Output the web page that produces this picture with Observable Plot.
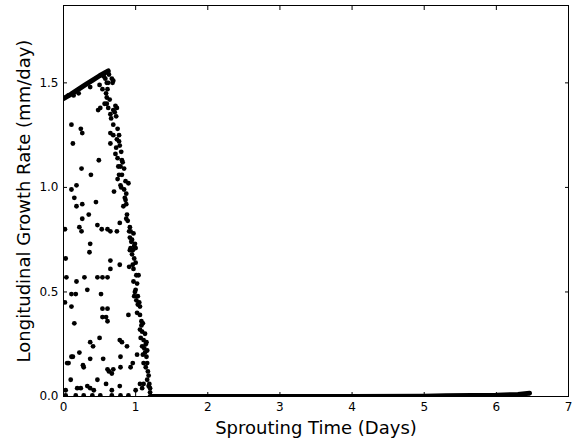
<!DOCTYPE html>
<html>
<head>
<meta charset="utf-8">
<script src="https://cdn.jsdelivr.net/npm/d3@7"></script>
<script src="https://cdn.jsdelivr.net/npm/@observablehq/plot@0.6"></script>
<style>
  html, body { margin: 0; padding: 0; background: #fff; }
  svg [aria-label="x-axis label"] text, svg [aria-label="y-axis label"] text { font-size: 18px; fill: #000; }
</style>
</head>
<body>
<div id="chart"></div>
<script>
// Scattered observations (days, mm/day)
const scatterX = [
  0.11,0.13,0.24,0.26,0.11,0.18,0.15,0.18,0.26,0.25,0.38,0.49,0.45,0.35,0.26,0.22,0.25,0.47,0.53,0.61,
  0.65,0.74,0.78,0.37,0.36,0.02,0.03,0.04,0.02,0.11,0.18,0.17,0.29,0.33,0.11,0.15,0.47,0.54,0.61,0.65,
  0.65,0.54,0.61,0.54,0.59,0.61,0.52,0.78,0.50,0.37,0.41,0.78,0.81,0.88,0.90,0.05,0.07,0.11,0.13,0.22,
  0.27,0.28,0.37,0.55,0.61,0.63,0.69,0.67,0.79,0.79,0.93,0.96,0.10,0.19,0.24,0.33,0.37,0.42,0.47,0.59,
  0.67,0.78,0.03,0.03,0.17,0.28,0.40,0.51,0.67,0.79,0.90,
  0.07,0.14,0.21,0.37,0.50,0.60,0.48,
  0.56,0.63,0.67,0.69,0.54,0.61,0.51,0.60,0.62,0.65,0.69,0.72,0.74,0.66,0.69,0.75,0.65,0.69,0.74,0.77,
  0.78,0.65,0.72,0.75,0.81,0.79,0.84,0.77,0.75,0.81,0.86,0.90,0.79,0.84,0.70,0.87,0.86,0.83,0.87,0.88,
  0.87,0.91,0.93,0.97,0.92,0.95,0.98,0.93,1.00,0.95,0.98,0.91,0.97,1.00,1.01,0.97,1.02,1.00,1.03,0.98,
  1.01,1.03,1.06,1.02,1.06,1.08,1.10,1.06,1.09,1.07,1.11,1.14,1.09,1.12,1.16,1.10,1.15,1.02,1.11,1.16,
  1.14,1.17,1.18,1.16,1.11,1.18,1.20,1.09,1.06,1.20,1.00,
  0.94,0.96,0.99,1.04,1.05,1.08,1.13,1.13,1.15,1.19,0.92,0.96,0.99,0.73,0.76,0.80,0.82,0.85,0.89,0.92,
  0.58,0.60,0.62,0.57,0.59,0.64,0.68,0.71,0.73,0.77,0.80
];
const scatterY = [
  1.30,1.21,1.28,1.26,0.99,1.01,0.95,0.91,0.92,1.09,1.06,1.13,0.93,0.87,0.85,0.81,0.79,0.82,0.80,0.80,
  0.79,0.79,0.83,0.73,0.69,0.80,0.66,0.57,0.45,0.49,0.55,0.49,0.57,0.51,0.43,0.35,0.57,0.57,0.57,0.61,
  0.65,0.42,0.42,0.38,0.38,0.36,0.49,0.63,0.28,0.26,0.24,0.27,0.26,0.24,0.39,0.16,0.16,0.19,0.19,0.21,
  0.15,0.14,0.18,0.18,0.13,0.12,0.13,0.11,0.19,0.14,0.14,0.16,0.08,0.04,0.04,0.05,0.04,0.03,0.08,0.06,
  0.03,0.05,0.03,0.005,0.005,0.005,0.005,0.005,0.005,0.005,0.005,
  1.44,1.44,1.45,1.48,1.49,1.50,1.37,
  1.53,1.54,1.52,1.51,1.47,1.47,1.38,1.40,1.38,1.35,1.37,1.39,1.38,1.33,1.30,1.28,1.26,1.25,1.23,1.22,
  1.20,1.21,1.16,1.14,1.13,1.10,1.09,1.06,1.04,1.06,1.03,1.02,1.01,0.99,0.98,0.97,0.94,0.91,0.92,0.87,
  0.85,0.79,0.79,0.78,0.76,0.75,0.72,0.71,0.71,0.68,0.66,0.62,0.61,0.64,0.58,0.55,0.54,0.51,0.48,0.48,
  0.46,0.44,0.43,0.40,0.39,0.36,0.35,0.32,0.31,0.28,0.27,0.25,0.24,0.23,0.22,0.20,0.19,0.20,0.16,0.16,
  0.14,0.12,0.10,0.08,0.06,0.05,0.04,0.04,0.06,0.02,0.03,
  0.74,0.70,0.73,0.58,0.45,0.34,0.30,0.21,0.26,0.06,0.81,0.63,0.50,1.19,1.10,1.00,1.12,0.95,0.84,0.70,
  1.52,1.43,1.50,1.40,1.45,1.42,1.50,1.36,1.34,1.25,1.17
];

// Dense rising run of points at the start (drawn as a thick run)
const riseX = [0.00, 0.10, 0.20, 0.30, 0.40, 0.50, 0.62];
const riseY = [1.425, 1.445, 1.468, 1.490, 1.512, 1.534, 1.557];

// Dense run of near-zero points after day 1.2
const baseX = [1.20, 2.00, 3.00, 4.00, 5.00, 5.30, 6.00, 6.30, 6.46];
const baseY = [0.000, 0.000, 0.000, 0.000, 0.001, 0.003, 0.006, 0.010, 0.016];

const xTicks = [0, 1, 2, 3, 4, 5, 6, 7];
const yTicks = [0, 0.5, 1.0, 1.5];

const pts = scatterX.map((x, i) => ({x, y: scatterY[i]}));
const rise = riseX.map((x, i) => ({x, y: riseY[i]}));
const base = baseX.map((x, i) => ({x, y: baseY[i]}));

const chart = Plot.plot({
  width: 576,
  height: 440,
  marginLeft: 63,
  marginRight: 8,
  marginTop: 5,
  marginBottom: 44,
  style: {fontFamily: "DejaVu Sans, sans-serif", fontSize: "12px", color: "#000", background: "#fff"},
  x: {domain: [0, 7]},
  y: {domain: [0, 1.87]},
  marks: [
    Plot.line(rise, {x: "x", y: "y", stroke: "#000", strokeWidth: 5, strokeLinecap: "round", clip: true}),
    Plot.line(base, {x: "x", y: "y", stroke: "#000", strokeWidth: 5, strokeLinecap: "round", clip: true}),
    Plot.dot(pts, {x: "x", y: "y", r: 2.4, fill: "#000", stroke: null, clip: true}),
    Plot.frame({stroke: "#000", strokeWidth: 1}),
    Plot.axisX(xTicks, {anchor: "bottom", tickSize: 0, tickPadding: 6, tickFormat: d3.format("d"),
      label: "Sprouting Time (Days)", labelAnchor: "center", labelArrow: "none", labelOffset: 37}),
    Plot.axisX(xTicks, {anchor: "bottom", tickSize: -4, tickFormat: () => "", label: null}),
    Plot.axisX(xTicks, {anchor: "top", tickSize: -4, tickFormat: () => "", label: null}),
    Plot.axisY(yTicks, {anchor: "left", tickSize: 0, tickPadding: 5, tickFormat: d3.format(".1f"),
      label: "Longitudinal Growth Rate (mm/day)", labelAnchor: "center", labelArrow: "none", labelOffset: 46}),
    Plot.axisY(yTicks, {anchor: "left", tickSize: -4, tickFormat: () => "", label: null}),
    Plot.axisY(yTicks, {anchor: "right", tickSize: -4, tickFormat: () => "", label: null})
  ]
});
document.getElementById("chart").appendChild(chart);
</script>
</body>
</html>
